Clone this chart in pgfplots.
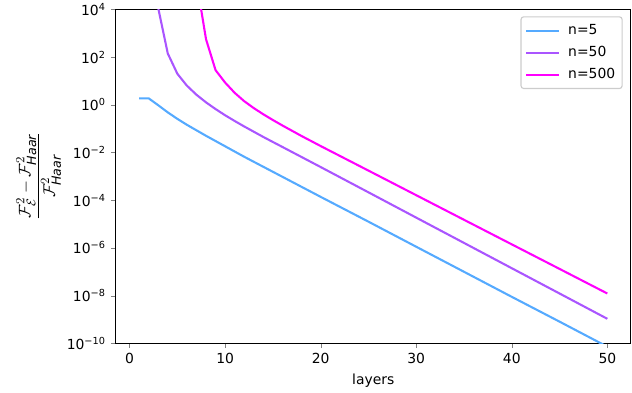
\documentclass[border=0pt]{standalone}
\usepackage{fontspec}
\setmainfont{DejaVu Sans}
\usepackage{amsmath}
\usepackage{pgfplots}
\pgfplotsset{compat=1.18}

\definecolor{nfive}{RGB}{85,170,255}
\definecolor{nfifty}{RGB}{170,85,255}
\definecolor{nfivehundred}{RGB}{255,0,255}

\begin{document}
\begin{tikzpicture}
\begin{axis}[
    name=ax,
    scale only axis,
    width=370.8pt, height=240.5pt,
    ymode=log,
    xmin=-1.45, xmax=52.45,
    ymin=1e-10, ymax=1e4,
    xtick={0,10,20,30,40,50},
    ytick={1e-10,1e-8,1e-6,1e-4,1e-2,1,1e2,1e4},
    yticklabels={10\textsuperscript{−10},10\textsuperscript{−8},10\textsuperscript{−6},10\textsuperscript{−4},10\textsuperscript{−2},10\textsuperscript{0},10\textsuperscript{2},10\textsuperscript{4}},
    yminorticks=false,
    tick align=outside,
    tick pos=left,
    major tick length=3.5pt,
    every axis/.append style={line width=0.8pt},
    /pgf/number format/assume math mode=true,
    ticklabel style={font=\fontsize{10}{12}\selectfont},
    xlabel style={font=\fontsize{10}{12}\selectfont},
    ylabel style={font=\fontsize{13}{16}\selectfont, yshift=-3pt},
    xlabel={layers},
    ylabel={$\displaystyle\frac{\mathcal{F}^2_{\mathcal{E}}-\mathcal{F}^2_{\text{\itshape Haar}}}{\mathcal{F}^2_{\text{\itshape Haar}}}$},
    legend cell align=left,
    legend image code/.code={\draw[#1, line width=1.5pt] (0pt,0pt) -- (23.5pt,0pt);},
    legend style={at={(1,1)}, anchor=north east, xshift=-5.8pt, yshift=-5pt,
        draw=black!20, rounded corners=2pt, line width=0.8pt,
        font=\fontsize{10}{12}\selectfont, row sep=3pt,
        inner xsep=3pt, inner ysep=3.5pt,
        /tikz/every odd column/.append style={column sep=4pt}},
]
% n = 5
\addplot[nfive, line width=1.5pt] coordinates {
(1,1.86) (2,1.86) (3,0.955) (4,0.479) (5,0.257) (6,0.1445) (7,0.0851)
(8,0.0501) (9,0.0302) (10,0.0182) (11,0.01096) (12,6.61e-3) (13,4.07e-3)
(14,2.51e-3) (15,1.55e-3) (16,9.55e-4) (17,5.89e-4) (18,3.63e-4)
(19,2.24e-4) (20,1.38e-4) (25,1.26e-5) (30,1.12e-6) (35,1.0e-7)
(40,8.91e-9) (45,8.13e-10) (50,7.24e-11)
};
\addlegendentry{n=5}
% n = 50
\addplot[nfifty, line width=1.5pt] coordinates {
(1,1e9) (2,3.16e6) (3,1.12e4) (4,141) (5,20.0) (6,6.31) (7,2.63) (8,1.26)
(9,0.661) (10,0.363) (11,0.209) (12,0.123) (13,0.0741) (14,0.0447)
(15,0.0275) (16,0.0170) (17,0.01047) (18,6.46e-3) (19,3.98e-3)
(20,2.45e-3) (25,2.14e-4) (30,1.86e-5) (35,1.62e-6) (40,1.41e-7)
(45,1.23e-8) (50,1.07e-9)
};
\addlegendentry{n=50}
% n = 500
\addplot[nfivehundred, line width=1.5pt] coordinates {
(6,1e8) (7,1.58e5) (8,562) (9,28.2) (10,8.51) (11,3.16) (12,1.41)
(13,0.724) (14,0.398) (15,0.229) (16,0.135) (17,0.0813) (18,0.0490)
(19,0.0302) (20,0.0186) (25,1.74e-3) (30,1.62e-4) (35,1.51e-5)
(40,1.41e-6) (45,1.32e-7) (50,1.23e-8)
};
\addlegendentry{n=500}
\end{axis}
\pgfresetboundingbox
\useasboundingbox ([xshift=-83.3pt,yshift=-35.1pt]ax.south west) rectangle ([xshift=0.9pt,yshift=6.7pt]ax.north east);
\end{tikzpicture}
\end{document}
